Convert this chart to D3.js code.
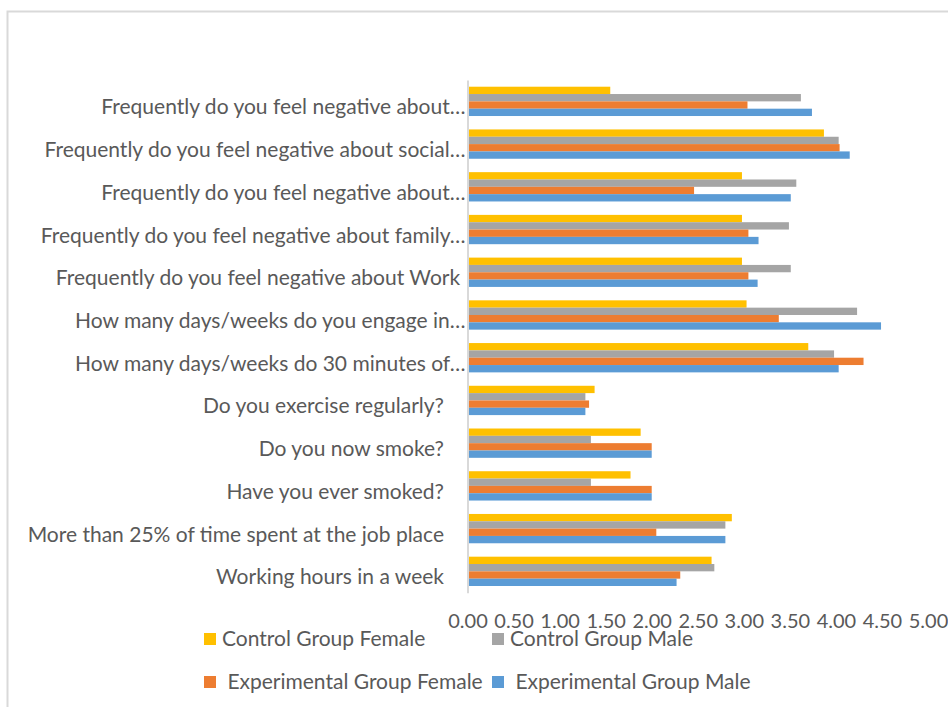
<!DOCTYPE html>
<html>
<head>
<meta charset="utf-8">
<script src="https://cdn.jsdelivr.net/npm/d3@7"></script>
<style>
	body { margin: 0; background: #fff; }
	svg text { white-space: pre; }
</style>
</head>
<body>
<div id="chart"></div>
<script>
'use strict'

/**
 * Grouped horizontal bars, control vs experimental groups by gender.
 */

// Labels, top to bottom (trailing spaces kept as in the source labels)
const categories = [
	'Frequently do you feel negative about…',
	'Frequently do you feel negative about social…',
	'Frequently do you feel negative about…',
	'Frequently do you feel negative about family…',
	'Frequently do you feel negative about Work ',
	'How many days/weeks do you engage in…',
	'How many days/weeks do 30 minutes of…',
	'Do you exercise regularly?    ',
	'Do you now smoke?    ',
	'Have you ever smoked?    ',
	'More than 25% of time spent at the job place    ',
	'Working hours in a week    '
];

const controlFemale = [1.55, 3.87, 2.98, 2.98, 2.98, 3.03, 3.70, 1.38, 1.88, 1.77, 2.87, 2.65];
const controlMale   = [3.62, 4.03, 3.57, 3.49, 3.51, 4.23, 3.98, 1.28, 1.34, 1.34, 2.80, 2.68];
const expFemale     = [3.04, 4.04, 2.46, 3.05, 3.05, 3.38, 4.30, 1.32, 2.00, 2.00, 2.05, 2.31];
const expMale       = [3.74, 4.15, 3.51, 3.16, 3.15, 4.49, 4.03, 1.28, 2.00, 2.00, 2.80, 2.27];

const seriesNames = ['Control Group Female', 'Control Group Male', ' Experimental Group Female', ' Experimental Group Male'];
const seriesColors = ['#ffc000', '#a5a5a5', '#ed7d31', '#5b9bd5'];
const seriesValues = [controlFemale, controlMale, expFemale, expMale];

const tickValues = [0, 0.5, 1, 1.5, 2, 2.5, 3, 3.5, 4, 4.5, 5];

const width = 948;
const height = 707;
const font = 'Lato, "Open Sans", sans-serif';
const fontSize = 21;
const textColor = '#595959';

const svg = d3.select('#chart')
	.append('svg')
	.attr('width', width)
	.attr('height', height);

svg.append('rect')
	.attr('width', width)
	.attr('height', height)
	.attr('fill', '#fff');

// caption of the page above, mostly cut off
svg.append('text')
	.attr('x', 2)
	.attr('y', -4)
	.style('font-family', font)
	.style('font-style', 'italic')
	.style('font-size', '20px')
	.attr('fill', '#000')
	.text('Table 4: Mean score of every group, by gender of the respondents, frequency of answers');

// chart border
svg.append('rect')
	.attr('x', 7.5)
	.attr('y', 11.5)
	.attr('width', width + 10)
	.attr('height', height + 10)
	.attr('fill', 'none')
	.attr('stroke', '#d9d9d9')
	.attr('stroke-width', 2);

// Scales
const x = d3.scaleLinear()
	.domain([0, 5])
	.range([467.5, 928]);

const y = d3.scaleBand()
	.domain(d3.range(categories.length))
	.range([80, 592.7])
	.paddingInner(0.314)
	.paddingOuter(0.157);

const ySub = d3.scaleBand()
	.domain(d3.range(seriesValues.length))
	.range([0, y.bandwidth()]);

// Bars
const groups = svg.append('g')
	.selectAll('g')
	.data(categories)
	.enter()
	.append('g')
		.attr('transform', (d, i) => `translate(0,${y(i)})`);

groups.selectAll('rect')
	.data((d, i) => seriesValues.map((s, k) => ({k: k, v: s[i]})))
	.enter()
	.append('rect')
		.attr('x', x(0))
		.attr('y', d => ySub(d.k))
		.attr('width', d => x(d.v) - x(0))
		.attr('height', ySub.bandwidth())
		.attr('fill', d => seriesColors[d.k]);

// Category axis
const yAxis = svg.append('g')
	.attr('transform', `translate(${x(0)},0)`)
	.call(d3.axisLeft(y).tickSize(0).tickSizeOuter(0).tickPadding(2).tickFormat(i => categories[i]));

yAxis.select('.domain')
	.attr('stroke', '#d9d9d9')
	.attr('stroke-width', 2);

yAxis.selectAll('text')
	.attr('dy', '0.62em')
	.style('font-family', font)
	.style('font-size', fontSize + 'px')
	.attr('fill', textColor);

// Value axis (labels only)
const xAxis = svg.append('g')
	.attr('transform', 'translate(0,610.5)')
	.call(d3.axisBottom(x).tickValues(tickValues).tickSize(0).tickFormat(d3.format('.2f')));

xAxis.select('.domain').remove();
xAxis.selectAll('text')
	.style('font-family', font)
	.style('font-size', '20px')
	.attr('fill', textColor);

// Legend, two rows of two
const legendCols = [204, 492];
const legendRows = [633, 676];

const legend = svg.append('g')
	.selectAll('g')
	.data(seriesNames)
	.enter()
	.append('g')
		.attr('transform', (d, i) => `translate(${legendCols[i % 2]},${legendRows[Math.floor(i / 2)]})`);

legend.append('rect')
	.attr('width', 12)
	.attr('height', 12)
	.attr('fill', (d, i) => seriesColors[i]);

legend.append('text')
	.attr('x', 18)
	.attr('y', 13)
	.style('font-family', font)
	.style('font-size', fontSize + 'px')
	.attr('fill', textColor)
	.text(d => d);
</script>
</body>
</html>
